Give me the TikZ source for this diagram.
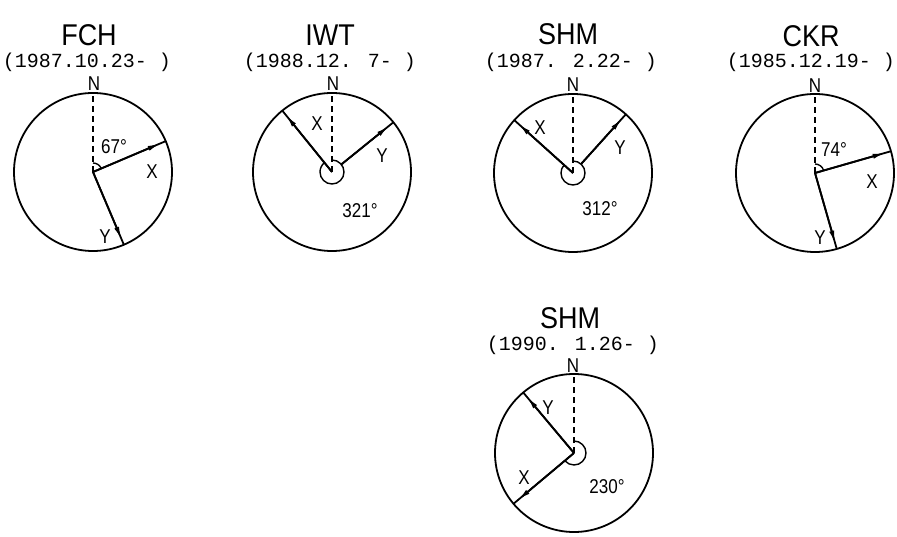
\documentclass[tikz,border=0pt]{standalone}
\usepackage{fontspec}
\setmainfont{Liberation Sans}
\newfontfamily\datefont{Liberation Mono}
\newfontfamily\lblfont[FakeStretch=0.85]{Liberation Sans}
\newfontfamily\ttlfont[FakeStretch=0.9]{Liberation Sans}
\usetikzlibrary{arrows.meta,calc}
\tikzset{
  x=1pt, y=1pt,
  rim/.style={line width=1.8pt},
  axisline/.style={line width=1.8pt},
  northline/.style={line width=1.4pt, dash pattern=on 6pt off 4pt},
  headline/.style={line width=1.8pt, -{Latex[length=13pt,width=5pt]}},
  anglearc/.style={line width=1.4pt},
  ttl/.style={font=\ttlfont\fontsize{30}{30}\selectfont, inner sep=0pt},
  dte/.style={font=\datefont\fontsize{20}{20}\selectfont, inner sep=0pt},
  lbl/.style={font=\lblfont\fontsize{20}{20}\selectfont, inner sep=0pt},
  nlbl/.style={font=\lblfont\fontsize{20}{20}\selectfont, inner sep=0pt, anchor=south},
}
% name, cx, cy, X azimuth, Y azimuth, arc radius, Y start radius
\newcommand\dial[7]{%
  \coordinate (#1c) at (#2,#3);
  \draw[rim] (#1c) circle[radius=79];
  \coordinate (#1n) at ($(#1c)+(90:79)$);
  \coordinate (#1x) at ($(#1c)+({90-#4}:79)$);
  \coordinate (#1y) at ($(#1c)+({90-#5}:79)$);
  \coordinate (#1ys) at ($(#1c)+({90-#5}:#7)$);
  \draw[northline] (#1c) -- (#1n);
  \draw[axisline] (#1c) -- (#1x);
  \draw[axisline] (#1ys) -- (#1y);
  \draw[headline] (#1c) -- ($(#1c)!0.93!(#1x)$);
  \draw[headline] (#1ys) -- ($(#1c)!0.93!(#1y)$);
  \draw[anglearc] ($(#1c)+(90:#6)$) arc[start angle=90, end angle={90-#4}, radius=#6];
}
\begin{document}
\begin{tikzpicture}
\useasboundingbox (0,0) rectangle (897,536);

% FCH
\dial{fch}{93}{364}{67}{157}{9}{0}
\node[ttl] (fchT) at (89,501) {FCH};
\node[dte] (fchD) at (87,474) {(1987.10.23- )};
\node[nlbl] (fchN) at (94,445) {N};
\node[lbl] (fchA) at (114,389) {67°};
\node[lbl] (fchX) at (152,364) {X};
\node[lbl] (fchY) at (105,299) {Y};

% IWT
\dial{iwt}{332}{364}{321}{51}{12}{12}
\node[ttl] (iwtT) at (330,501) {IWT};
\node[dte] (iwtD) at (330,474) {(1988.12. 7- )};
\node[nlbl] (iwtN) at (333,445) {N};
\node[lbl] (iwtA) at (360,325) {321°};
\node[lbl] (iwtX) at (317,412) {X};
\node[lbl] (iwtY) at (382,380) {Y};

% SHM 1987
\dial{shma}{573}{363}{312}{42}{12}{12}
\node[ttl] (shmaT) at (568,502) {SHM};
\node[dte] (shmaD) at (571,474) {(1987. 2.22- )};
\node[nlbl] (shmaN) at (573,444) {N};
\node[lbl] (shmaA) at (600,327) {312°};
\node[lbl] (shmaX) at (540,408) {X};
\node[lbl] (shmaY) at (620,388) {Y};

% CKR
\dial{ckr}{815}{363}{74}{164}{9}{0}
\node[ttl] (ckrT) at (811,500) {CKR};
\node[dte] (ckrD) at (811,474) {(1985.12.19- )};
\node[nlbl] (ckrN) at (815,443) {N};
\node[lbl] (ckrA) at (834,386) {74°};
\node[lbl] (ckrX) at (872,354) {X};
\node[lbl] (ckrY) at (820,298) {Y};

% SHM 1990
\dial{shmb}{574}{83}{230}{320}{12}{0}
\node[ttl] (shmbT) at (570,218) {SHM};
\node[dte] (shmbD) at (573,191) {(1990. 1.26- )};
\node[nlbl] (shmbN) at (573,163) {N};
\node[lbl] (shmbA) at (607,49) {230°};
\node[lbl] (shmbX) at (524,58) {X};
\node[lbl] (shmbY) at (548,128) {Y};
\end{tikzpicture}
\end{document}
